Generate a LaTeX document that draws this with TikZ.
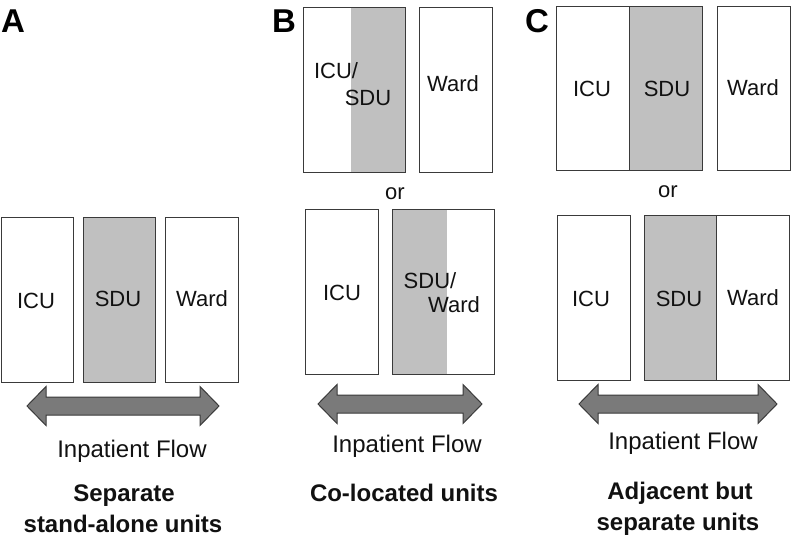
\documentclass[tikz,border=0pt]{standalone}
\usepackage{fontspec}
\setmainfont{Liberation Sans}
\definecolor{sdugray}{HTML}{C0C0C0}
\definecolor{arrowgray}{HTML}{7A7A7A}
\definecolor{edgegray}{HTML}{3A3A3A}
\definecolor{txt}{HTML}{111111}
\newcommand\drawflow[3]{%
  \draw[flowstyle] (#1,#3) -- (#1+19,#3-19.5) -- (#1+19,#3-9) -- (#2-19,#3-9) -- (#2-19,#3-19.5) -- (#2,#3)
    -- (#2-19,#3+19.5) -- (#2-19,#3+9) -- (#1+19,#3+9) -- (#1+19,#3+19.5) -- cycle;}
\begin{document}
\begin{tikzpicture}[x=1pt,y=-1pt,
  unitbox/.style={draw=edgegray, line width=1pt, rectangle, inner sep=0pt, minimum height=165pt},
  graybox/.style={unitbox, fill=sdugray},
  unitlbl/.style={anchor=base, inner sep=0pt, text=txt, font=\fontsize{22}{24}\selectfont},
  flowlbl/.style={anchor=base, inner sep=0pt, text=txt, font=\fontsize{24}{26}\selectfont},
  titlelbl/.style={anchor=base, inner sep=0pt, text=txt, font=\bfseries\fontsize{24}{26}\selectfont},
  panellbl/.style={anchor=base, inner sep=0pt, text=black, font=\bfseries\fontsize{33}{34}\selectfont},
  orlbl/.style={anchor=base, inner sep=0pt, text=txt, font=\fontsize{22}{24}\selectfont},
  flowstyle/.style={draw=edgegray, fill=arrowgray, line width=1pt, line join=miter}]
\useasboundingbox (0,0) rectangle (794,538);

% Panel labels
\node[panellbl] (pA) at (13,32) {A};
\node[panellbl] (pB) at (284,32) {B};
\node[panellbl] (pC) at (537,32) {C};

% ---------- Panel A ----------
\node[unitbox, minimum width=72pt] (aicu) at (37,299.5) {};
\node[graybox, minimum width=72pt] (asdu) at (119,299.5) {};
\node[unitbox, minimum width=73pt] (award) at (201.5,299.5) {};
\node[unitlbl] (aicut) at (36,308) {ICU};
\node[unitlbl] (asdut) at (118,306) {SDU};
\node[unitlbl] (awardt) at (202,306) {Ward};
\drawflow{27}{219}{406}
\node[flowlbl] (aflow) at (132,457) {Inpatient Flow};
\node[titlelbl] (at1) at (124,501) {Separate};
\node[titlelbl] (at2) at (123,532) {stand-alone units};

% ---------- Panel B ----------
\node[unitbox, minimum width=102pt,
  path picture={\fill[sdugray] ([xshift=48pt]path picture bounding box.north west) rectangle (path picture bounding box.south east);}]
  (bicusdu) at (354,89.5) {};
\node[unitbox, minimum width=73pt] (bward) at (455.5,89.5) {};
\node[unitlbl] (bt1) at (336,78) {ICU/};
\node[unitlbl] (bt2) at (368,105) {SDU};
\node[unitlbl] (bwardt) at (453,91) {Ward};
\node[orlbl] (bor) at (395,199) {or};
\node[unitbox, minimum width=73pt] (bicu) at (341.5,291.5) {};
\node[unitbox, minimum width=102pt,
  path picture={\fill[sdugray] (path picture bounding box.north west) rectangle ([xshift=-47pt]path picture bounding box.south east);}]
  (bsduward) at (443,291.5) {};
\node[unitlbl] (bicut) at (342,300) {ICU};
\node[unitlbl] (bt3) at (430,288) {SDU/};
\node[unitlbl] (bt4) at (454,312) {Ward};
\drawflow{318}{482}{404}
\node[flowlbl] (bflow) at (407,452) {Inpatient Flow};
\node[titlelbl] (bt) at (404,501) {Co-located units};

% ---------- Panel C ----------
\node[unitbox, minimum width=73pt, minimum height=164pt] (cicu1) at (592.5,88) {};
\node[graybox, minimum width=73pt, minimum height=164pt] (csdu1) at (665.5,88) {};
\node[unitbox, minimum width=73pt, minimum height=164pt] (cward1) at (753.5,88) {};
\node[unitlbl] (cicu1t) at (592,96) {ICU};
\node[unitlbl] (csdu1t) at (667,96) {SDU};
\node[unitlbl] (cward1t) at (753,95) {Ward};
\node[orlbl] (cor) at (668,197) {or};
\node[unitbox, minimum width=73pt] (cicu2) at (593.5,297.5) {};
\node[graybox, minimum width=72pt] (csdu2) at (680,297.5) {};
\node[unitbox, minimum width=73pt] (cward2) at (752.5,297.5) {};
\node[unitlbl] (cicu2t) at (591,306) {ICU};
\node[unitlbl] (csdu2t) at (679,306) {SDU};
\node[unitlbl] (cward2t) at (753,305) {Ward};
\drawflow{579}{777}{404}
\node[flowlbl] (cflow) at (683,449) {Inpatient Flow};
\node[titlelbl] (ct1) at (680,499) {Adjacent but};
\node[titlelbl] (ct2) at (678,530) {separate units};
\end{tikzpicture}
\end{document}
